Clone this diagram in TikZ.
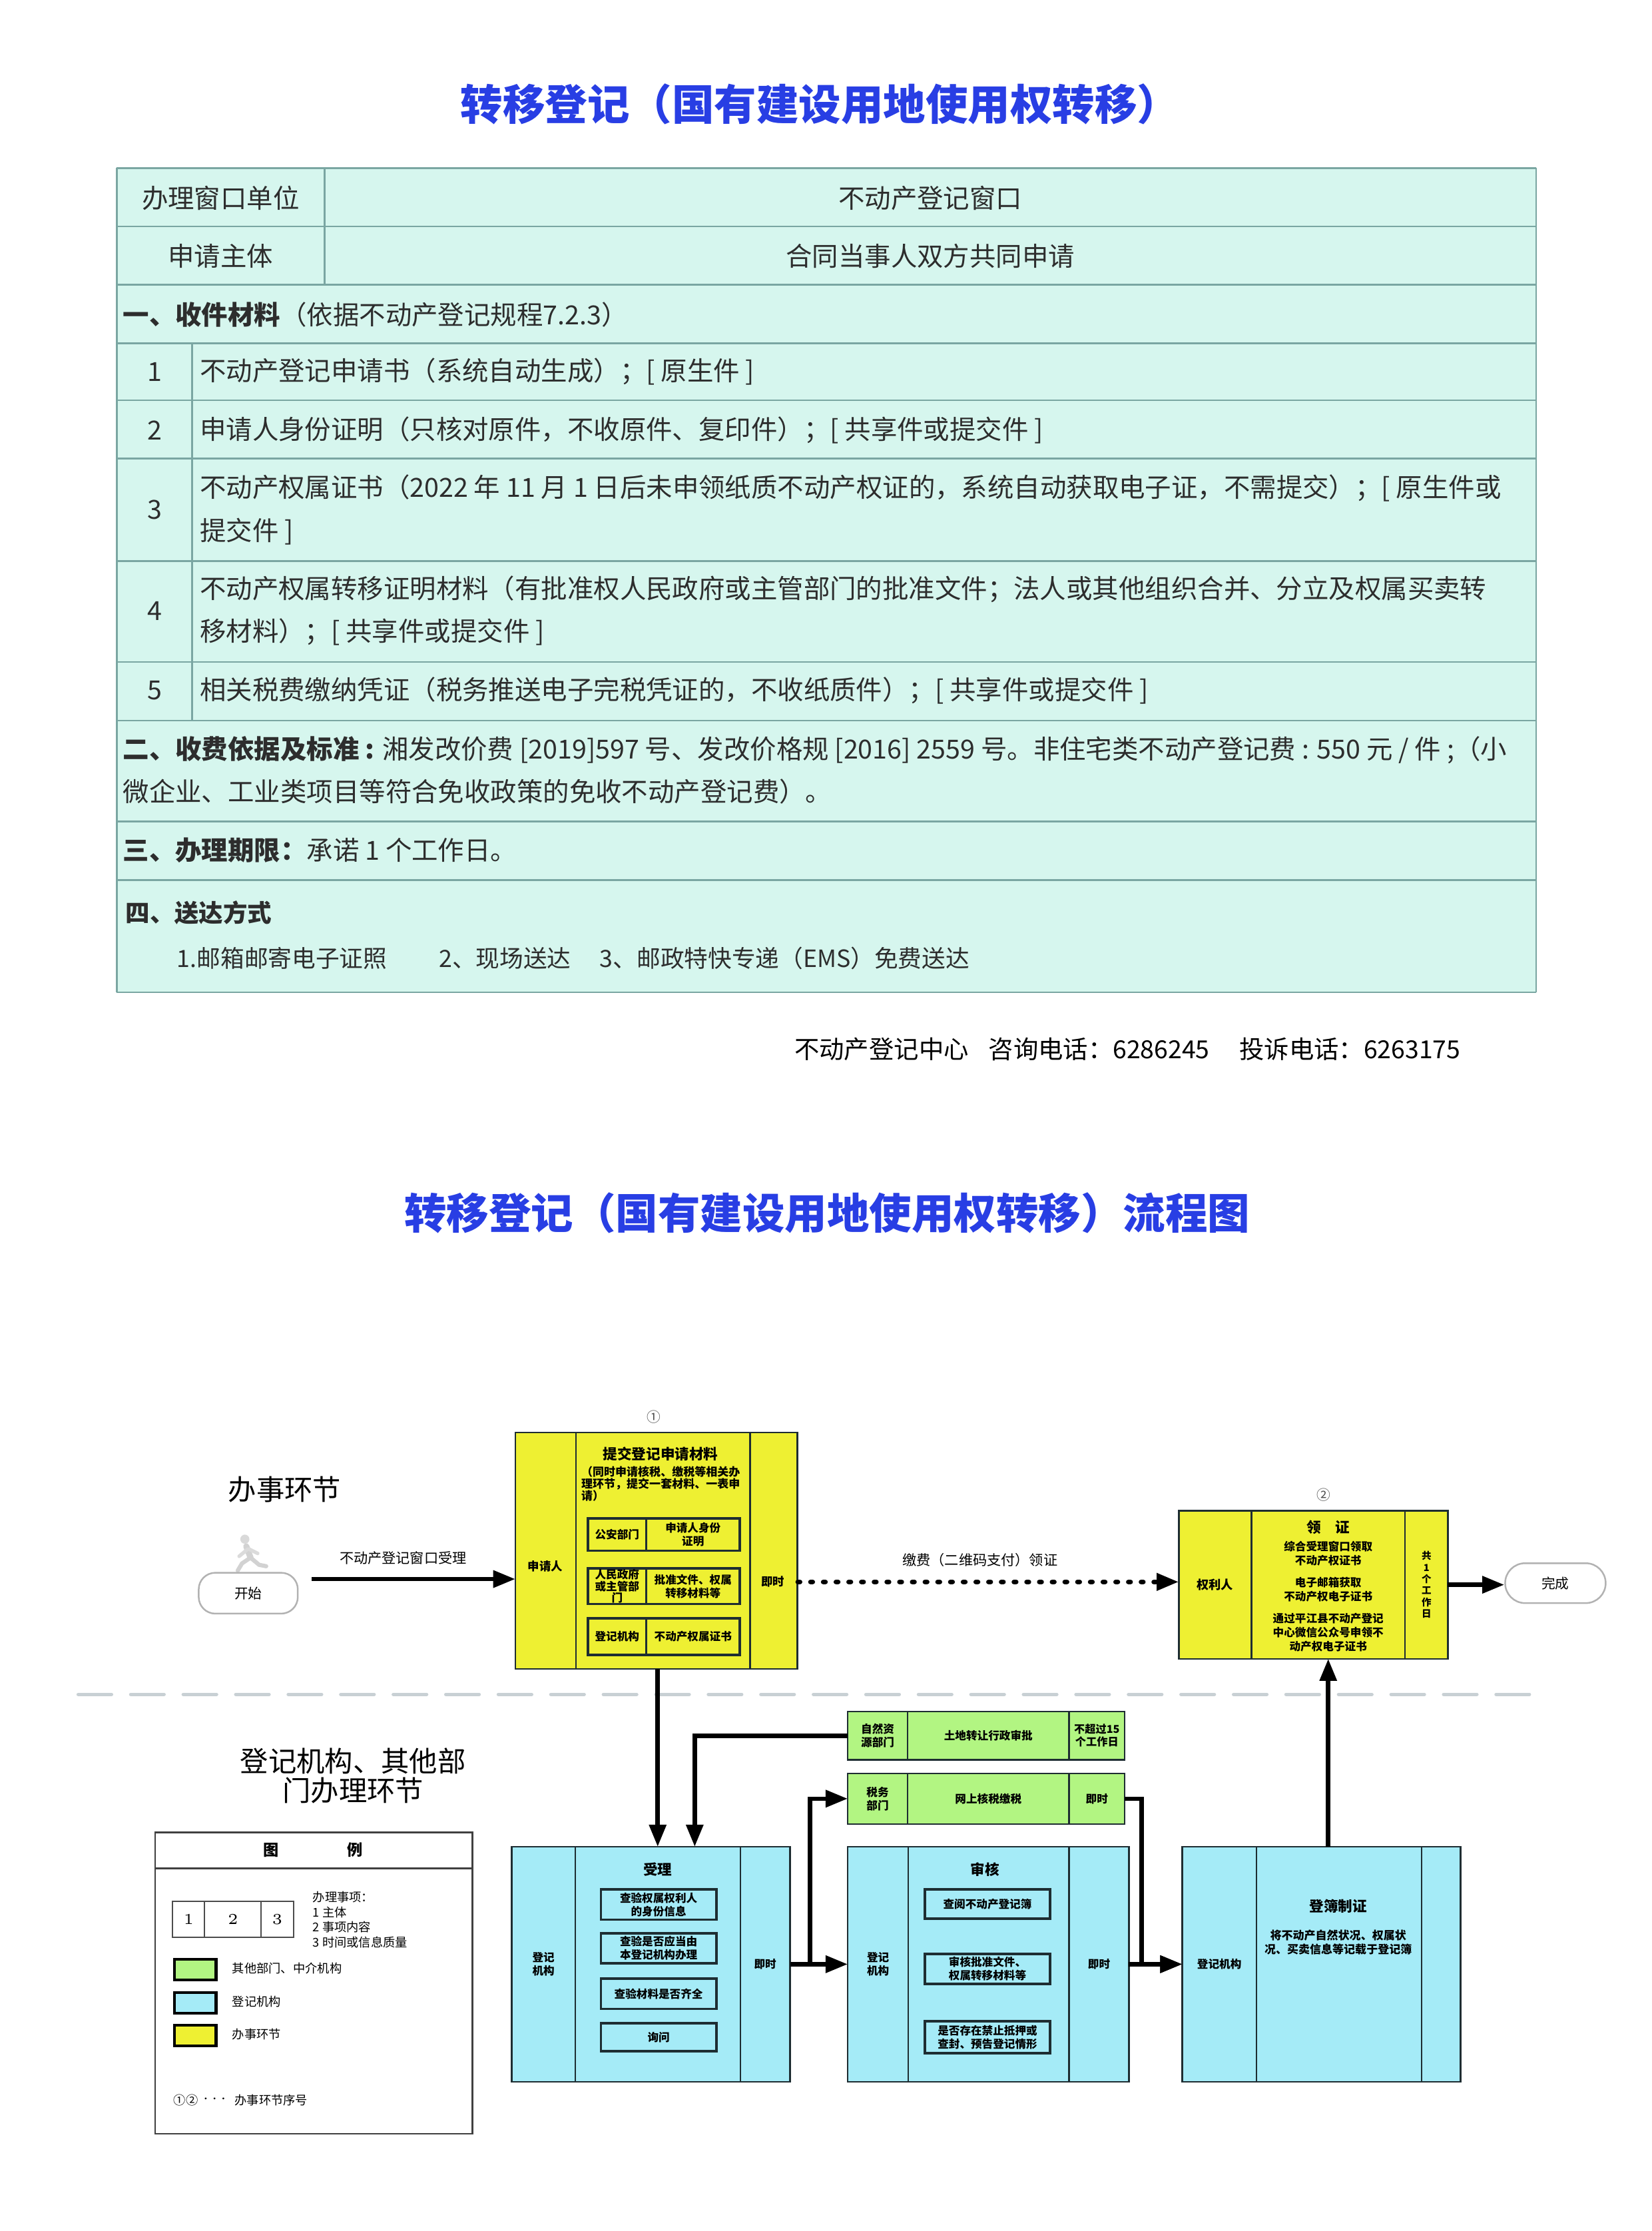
\documentclass[tikz,border=0pt]{standalone}
\usepackage{fontspec}
\setmainfont{Noto Sans CJK SC}
\newfontfamily\lmfont{Latin Modern Roman}
\usetikzlibrary{arrows.meta, positioning}
\newcommand{\pxu}{0.181034mm}
\newcommand{\fsz}[2]{\fontsize{#1pt}{#2pt}\selectfont}
\definecolor{titleblue}{RGB}{40,62,228}
\definecolor{tabfill}{RGB}{214,246,238}
\definecolor{tabline}{RGB}{122,166,162}
\definecolor{tabtext}{RGB}{45,45,45}
\definecolor{stepyellow}{RGB}{238,240,50}
\definecolor{deptgreen}{RGB}{178,245,130}
\definecolor{orgblue}{RGB}{165,235,247}
\definecolor{boxline}{RGB}{30,45,50}
\definecolor{sepgray}{RGB}{200,208,212}
\tikzset{maintitle/.style={font=\bfseries\fsz{15.3}{18}, text=titleblue, inner sep=0pt},
         tabrule/.style={draw=tabline, line width=0.6pt},
         tabcell/.style={font=\fsz{9.5}{15.5}, text=tabtext, inner sep=0pt},
         tableft/.style={tabcell, anchor=west, align=left},
         sz/.style 2 args={minimum width=#1*\pxu, minimum height=#2*\pxu},
         colbox/.style={rectangle, draw=boxline, line width=0.6pt, inner sep=0pt, outer sep=0pt, anchor=north west, align=center, font=\bfseries\fsz{4}{4.8}},
         ycol/.style={colbox, fill=stepyellow},
         gcol/.style={colbox, fill=deptgreen},
         bcol/.style={colbox, fill=orgblue},
         subcell/.style={rectangle, draw=boxline, line width=0.8pt, inner sep=0pt, outer sep=0pt, anchor=north west, align=center, font=\bfseries\fsz{4}{4.8}},
         boxhead/.style={font=\bfseries\fsz{5.2}{6}, inner sep=0pt},
         boxtext/.style={font=\bfseries\fsz{4}{5}, inner sep=0pt, align=center},
         seqmark/.style={font=\fsz{5}{6}, text=black!70, inner sep=0pt},
         terminal/.style={rectangle, draw=gray!60, line width=0.6pt, fill=white, anchor=north west, inner sep=0pt, font=\fsz{5}{6}},
         lbl/.style={font=\fsz{5.1}{6}, inner sep=0pt},
         lane/.style={font=\fsz{10.2}{10.6}, inner sep=0pt, align=center},
         lgcell/.style={rectangle, draw=black!70, line width=0.5pt, inner sep=0pt, outer sep=0pt, anchor=north west, font=\lmfont\fsz{5.5}{6}},
         swatch/.style={rectangle, draw=black, line width=1pt, inner sep=0pt, anchor=north west, sz={29.2}{14.4}},
         lgtext/.style={font=\fsz{4.4}{5.46}, inner sep=0pt, anchor=west, align=left},
         arrow/.style={-{Triangle[length=8pt,width=6pt]}, line width=1.6pt},
         dotarrow/.style={-{Triangle[length=8pt,width=6pt]}, line width=1.8pt, dash pattern=on 0.7pt off 3.9pt, line cap=round},
         sepline/.style={draw=sepgray, line width=1.3pt, dash pattern=on 12pt off 7pt, line cap=round}}
\begin{document}
\begin{tikzpicture}[x=\pxu, y=-\pxu]
  \useasboundingbox (0,0) rectangle (1160,1566.9);
  % service guide
  \node[maintitle] (title1) at (576,73) {转移登记（国有建设用地使用权转移）};
  \fill[tabfill] (82,118) rectangle (1079,697);
  \foreach \yy in {118,159,200,241,281,322,394,465,506,577,618,697}
    \draw[tabrule] (82,\yy) -- (1079,\yy);
  \draw[tabrule] (82,118) -- (82,697);
  \draw[tabrule] (1079,118) -- (1079,697);
  \draw[tabrule] (228,118) -- (228,200);
  \draw[tabrule] (135,241) -- (135,506);
  \node[tabcell] (unit) at (155,139) {办理窗口单位};
  \node[tabcell] (window) at (653.5,139) {不动产登记窗口};
  \node[tabcell] (subject) at (155,180) {申请主体};
  \node[tabcell] (parties) at (653.5,180) {合同当事人双方共同申请};
  \node[tableft] (docs) at (86,221) {\textbf{一、收件材料}（依据不动产登记规程7.2.3）};
  \node[tabcell] (num1) at (108.5,261) {1};
  \node[tableft] (doc1) at (140,261) {不动产登记申请书（系统自动生成）；[ 原生件 ]};
  \node[tabcell] (num2) at (108.5,302) {2};
  \node[tableft] (doc2) at (140,302) {申请人身份证明（只核对原件，不收原件、复印件）；[ 共享件或提交件 ]};
  \node[tabcell] (num3) at (108.5,358) {3};
  \node[tableft] (doc3) at (140,358) {不动产权属证书（2022 年 11 月 1 日后未申领纸质不动产权证的，系统自动获取电子证，不需提交）；[ 原生件或\\提交件 ]};
  \node[tabcell] (num4) at (108.5,429) {4};
  \node[tableft] (doc4) at (140,429) {不动产权属转移证明材料（有批准权人民政府或主管部门的批准文件；法人或其他组织合并、分立及权属买卖转\\移材料）；[ 共享件或提交件 ]};
  \node[tabcell] (num5) at (108.5,485) {5};
  \node[tableft] (doc5) at (140,485) {相关税费缴纳凭证（税务推送电子完税凭证的，不收纸质件）；[ 共享件或提交件 ]};
  \node[tableft] (fee) at (86,541) {\textbf{二、收费依据及标准 :} 湘发改价费 [2019]597 号、发改价格规 [2016] 2559 号。非住宅类不动产登记费 : 550 元 / 件 ;（小\\微企业、工业类项目等符合免收政策的免收不动产登记费）。};
  \node[tableft] (term) at (86,597) {\textbf{三、办理期限：}承诺 1 个工作日。};
  \node[tableft, font=\bfseries\fsz{8.8}{10}] (deliver) at (88,641) {四、送达方式};
  \node[tableft, font=\fsz{8.6}{10}] (del1) at (124,673) {1.邮箱邮寄电子证照};
  \node[tableft, font=\fsz{8.6}{10}] (del2) at (308,673) {2、现场送达};
  \node[tableft, font=\fsz{8.6}{10}] (del3) at (421,673) {3、邮政特快专递（EMS）免费送达};
  \node[tabcell, font=\fsz{9}{10}, text=black] (hotline) at (792,737) {不动产登记中心\hspace{0.8em}咨询电话：6286245\hspace{1.2em}投诉电话：6263175};
  % flow chart
  \node[maintitle] (title2) at (581,852) {转移登记（国有建设用地使用权转移）流程图};
  \node[lane] (lanetop) at (200,1046) {办事环节};
  \node[lane] (lanebottom) at (248,1247) {登记机构、其他部\\门办理环节};
  \draw[sepline] (55,1190) -- (1080,1190);
  % runner
  \fill[gray!30] (172,1081) circle (3.2);
  \draw[gray!35, line width=2.2pt, line cap=round] (173,1086) -- (176,1094);
  \draw[gray!28, line width=1.3pt, line cap=round] (174,1088) -- (168,1093) (175,1088) -- (181,1091);
  \draw[gray!35, line width=1.5pt, line cap=round] (176,1094) -- (170,1098) -- (167,1103) (176,1094) -- (182,1099) -- (187,1100);
  \node[terminal, rounded corners=6pt, sz={69.6}{28.7}] (start) at (139,1104) {开始};
  \node[terminal, rounded corners=7.2pt, sz={70.6}{28}] (done) at (1056.7,1097.3) {完成};
  % step 1
  \node[ycol, sz={42.5}{166}] (y1a) at (362,1006) {};
  \node[ycol, sz={122.5}{166}] (y1b) at (404.5,1006) {};
  \node[ycol, sz={33}{166}] (y1c) at (527,1006) {};
  \node[boxtext, font=\bfseries\fsz{4.2}{5}] (y1who) at (383,1100) {申请人};
  \node[boxtext, font=\bfseries\fsz{4.2}{5}] (y1time) at (543,1111) {即时};
  \node[seqmark] (seq1) at (459.3,995) {①};
  \node[boxhead] (y1head) at (464,1021) {提交登记申请材料};
  \node[boxtext, anchor=west, align=left, font=\bfseries\fsz{4.1}{4.3}] (y1note) at (408,1042) {（同时申请核税、缴税等相关办\\理环节，提交一套材料、一表申\\请）};
  \node[subcell, sz={41}{22.6}] (s1a) at (413,1066.4) {公安部门};
  \node[subcell, sz={65.6}{22.6}] (s1b) at (454,1066.4) {申请人身份\\证明};
  \node[subcell, sz={41}{25}, font=\bfseries\fsz{4}{4.2}] (s2a) at (413,1101.5) {人民政府\\或主管部\\门};
  \node[subcell, sz={65.6}{25}] (s2b) at (454,1101.5) {批准文件、权属\\转移材料等};
  \node[subcell, sz={41}{25.7}] (s3a) at (413,1136.6) {登记机构};
  \node[subcell, sz={65.6}{25.7}] (s3b) at (454,1136.6) {不动产权属证书};
  % step 2
  \node[ycol, sz={51}{104}, font=\bfseries\fsz{4.4}{5}] (y2a) at (828,1061) {权利人};
  \node[ycol, sz={108}{104}] (y2b) at (879,1061) {};
  \node[ycol, sz={30}{104}, font=\bfseries\fsz{3.5}{4.2}] (y2c) at (987,1061) {共\\1\\个\\工\\作\\日};
  \node[seqmark] (seq2) at (929.6,1050) {②};
  \node[boxhead] (y2head) at (933,1072.5) {领\quad 证};
  \node[boxtext] (pick1) at (933,1091.2) {综合受理窗口领取\\不动产权证书};
  \node[boxtext] (pick2) at (933,1116.3) {电子邮箱获取\\不动产权电子证书};
  \node[boxtext] (pick3) at (933,1146.5) {通过平江县不动产登记\\中心微信公众号申领不\\动产权电子证书};
  % other departments
  \node[gcol, sz={42}{34}] (g1a) at (595.5,1202) {自然资\\源部门};
  \node[gcol, sz={113.5}{34}] (g1b) at (637.5,1202) {土地转让行政审批};
  \node[gcol, sz={39}{34}, font=\bfseries\fsz{3.9}{4.6}] (g1c) at (751,1202) {不超过15\\个工作日};
  \node[gcol, sz={42}{35.5}] (g2a) at (595.5,1245.5) {税务\\部门};
  \node[gcol, sz={113.5}{35.5}] (g2b) at (637.5,1245.5) {网上核税缴税};
  \node[gcol, sz={39}{35.5}] (g2c) at (751,1245.5) {即时};
  % registration office
  \node[bcol, sz={44.5}{165}] (b1a) at (359.5,1297) {登记\\机构};
  \node[bcol, sz={116}{165}] (b1b) at (404,1297) {};
  \node[bcol, sz={35}{165}] (b1c) at (520,1297) {即时};
  \node[boxhead] (b1head) at (462,1312.8) {受理};
  \node[subcell, sz={81.3}{21.3}] (c1) at (422,1327) {查验权属权利人\\的身份信息};
  \node[subcell, sz={81.3}{21}] (c2) at (422,1357.8) {查验是否应当由\\本登记机构办理};
  \node[subcell, sz={81.3}{21.4}] (c3) at (422,1389.6) {查验材料是否齐全};
  \node[subcell, sz={81.3}{19.6}] (c4) at (422,1421) {询问};
  \node[bcol, sz={42.5}{165}] (b2a) at (595.5,1297) {登记\\机构};
  \node[bcol, sz={113}{165}] (b2b) at (638,1297) {};
  \node[bcol, sz={42}{165}] (b2c) at (751,1297) {即时};
  \node[boxhead] (b2head) at (692,1312.8) {审核};
  \node[subcell, sz={87.9}{20.5}] (r1) at (649.7,1327) {查阅不动产登记簿};
  \node[subcell, sz={87.9}{21.1}] (r2) at (649.7,1372.3) {审核批准文件、\\权属转移材料等};
  \node[subcell, sz={87.9}{22.5}] (r3) at (649.7,1419.5) {是否存在禁止抵押或\\查封、预告登记情形};
  \node[bcol, sz={52}{165}] (b3a) at (830.5,1297) {登记机构};
  \node[bcol, sz={116}{165}] (b3b) at (882.5,1297) {};
  \node[bcol, sz={27.5}{165}] (b3c) at (998.5,1297) {};
  \node[boxhead] (b3head) at (940,1338.6) {登簿制证};
  \node[boxtext, font=\bfseries\fsz{4.1}{5}] (b3note) at (940,1364) {将不动产自然状况、权属状\\况、买卖信息等记载于登记簿};
  % connectors
  \coordinate (s0) at (219,1109);
  \coordinate (d0) at (560.5,1111);
  \coordinate (j1) at (488,1297);
  \coordinate (j2) at (569,1379.5);
  \coordinate (j3) at (802,1379.5);
  \draw[arrow] (s0) -- (s0 -| y1a.west) node[lbl, midway, above=4.5pt, xshift=-3.8pt] {不动产登记窗口受理};
  \draw[dotarrow] (d0) -- (d0 -| y2a.west) node[lbl, midway, above=4.5pt, xshift=-3pt] {缴费（二维码支付）领证};
  \draw[arrow] (y2c.east) -- (y2c.east -| done.west);
  \draw[arrow] (y1b.south -| b1b.north) -- (b1b.north);
  \draw[arrow] (g1a.west) -| (j1);
  \draw[arrow] (b1c.east) -- (b2a.west);
  \draw[arrow] (j2) |- (g2a.west);
  \draw[arrow] (g2c.east) -| (j3) -- (b3a.west);
  \draw[arrow] (b2c.east) -- (b3a.west);
  \draw[arrow] (b3b.north -| y2b.south) -- (y2b.south);
  % legend
  \node[rectangle, draw=black!75, line width=0.6pt, anchor=north west, inner sep=0pt, sz={222.8}{211.7}] (legend) at (108.4,1286.3) {};
  \draw[black!75, line width=0.6pt] (108.4,1312.2) -- (331.2,1312.2);
  \node[boxhead, font=\bfseries\fsz{5.6}{6}] (lgtitle1) at (190.2,1299.2) {图};
  \node[boxhead, font=\bfseries\fsz{5.6}{6}] (lgtitle2) at (249.4,1299.2) {例};
  \node[lgcell, sz={22.4}{25.2}] (lg1) at (121.3,1335.4) {1};
  \node[lgcell, sz={39.8}{25.2}] (lg2) at (143.7,1335.4) {2};
  \node[lgcell, sz={22.6}{25.2}] (lg3) at (183.5,1335.4) {3};
  \node[lgtext] (lgitems) at (219.4,1348.2) {办理事项：\\1\ 主体\\2\ 事项内容\\3\ 时间或信息质量};
  \node[swatch, fill=deptgreen] (sw1) at (121.6,1375) {};
  \node[swatch, fill=orgblue] (sw2) at (121.6,1398.4) {};
  \node[swatch, fill=stepyellow] (sw3) at (121.6,1421.5) {};
  \node[lgtext] (lgdept) at (162.8,1382.2) {其他部门、中介机构};
  \node[lgtext] (lgorg) at (162.8,1405.6) {登记机构};
  \node[lgtext] (lgstep) at (162.8,1428.7) {办事环节};
  \node[lgtext] (lgseq) at (121.6,1475) {①②};
  \node[lgtext, font=\fsz{3.2}{4}] (lgdots) at (141,1475) {···};
  \node[lgtext] (lgseqtext) at (164.5,1475) {办事环节序号};
\end{tikzpicture}
\end{document}
